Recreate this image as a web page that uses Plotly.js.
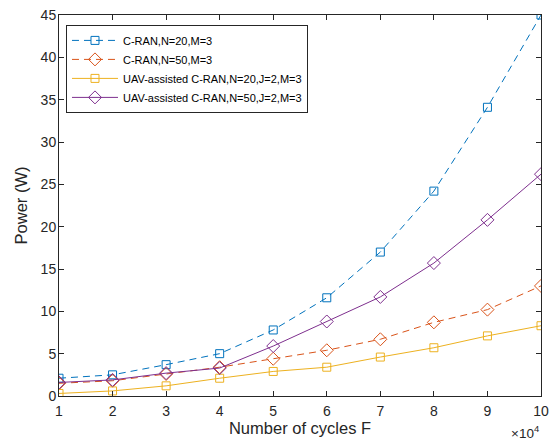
<!DOCTYPE html>
<html><head><meta charset="utf-8">
<script src="https://cdn.plot.ly/plotly-3.0.1.min.js"></script>
<style>html,body{margin:0;padding:0;background:#fff}#chart{width:553px;height:442px}</style>
</head><body><div id="chart"></div>
<script>
var cycles = [1,2,3,4,5,6,7,8,9,10];
var cranN20 = [2.1,2.5,3.7,5.0,7.8,11.6,17.0,24.2,34.1,45.0];
var cranN50 = [1.5,1.8,2.6,3.4,4.4,5.4,6.7,8.7,10.2,13.0];
var uavN20 = [0.3,0.6,1.2,2.1,2.9,3.4,4.6,5.7,7.1,8.3];
var uavN50 = [1.6,1.9,2.7,3.3,5.9,8.8,11.7,15.7,20.8,26.2];
var names = ['C-RAN,N=20,M=3','C-RAN,N=50,M=3','UAV-assisted C-RAN,N=20,J=2,M=3','UAV-assisted C-RAN,N=50,J=2,M=3'];
var xTicks = [1,2,3,4,5,6,7,8,9,10];
var yTicks = [0,5,10,15,20,25,30,35,40,45];

var font = 'Liberation Sans, Arial, sans-serif';
function tr(y, name, color, dash, sym, size){
  return {x: cycles, y: y, name: name, type:'scatter', mode:'lines+markers',
    line:{color:color, width:1, dash:dash},
    marker:{symbol:sym, size:size, color:color, line:{color:color, width:1}}};
}
var data = [
  tr(cranN20, names[0], '#0072BD', '7px,5px', 'square-open', 8),
  tr(cranN50, names[1], '#D95319', '7px,5px', 'diamond-open', 10),
  tr(uavN20, names[2], '#EDB120', 'solid', 'square-open', 8),
  tr(uavN50, names[3], '#7E2F8E', 'solid', 'diamond-open', 10)
];
var axisCommon = {showgrid:false, zeroline:false, showline:true, mirror:'ticks', linecolor:'#262626', linewidth:1,
  ticks:'inside', ticklen:5, tickcolor:'#262626', tickfont:{family:font, size:14, color:'#262626'}};
var layout = {
  width:553, height:442, margin:{l:59, r:12, t:15, b:46},
  paper_bgcolor:'#fff', plot_bgcolor:'#fff',
  showlegend:true,
  legend:{x:0.0145, y:0.974, xanchor:'left', yanchor:'top', bgcolor:'#fff', bordercolor:'#262626', borderwidth:1,
    font:{family:font, size:11, color:'#000'}, tracegroupgap:0, itemwidth:46},
  xaxis: Object.assign({}, axisCommon, {range:[1,10], tickvals:xTicks, ticktext:xTicks.map(String), ticklabelstandoff:2,
    title:{text:'Number of cycles F', font:{family:font, size:16.5, color:'#262626'}, standoff:4}}),
  yaxis: Object.assign({}, axisCommon, {range:[0,45], tickvals:yTicks, ticktext:yTicks.map(String), ticklabelstandoff:-1,
    title:{text:'Power (W)', font:{family:font, size:16.5, color:'#262626'}, standoff:8}}),
  annotations:[{xref:'paper', yref:'paper', x:1.0, y:0, xanchor:'right', yanchor:'top', yshift:-25, showarrow:false,
    text:'×10<sup>4</sup>', font:{family:font, size:13.5, color:'#262626'}}]
};
Plotly.newPlot('chart', data, layout, {displayModeBar:false, staticPlot:true});
</script></body></html>
